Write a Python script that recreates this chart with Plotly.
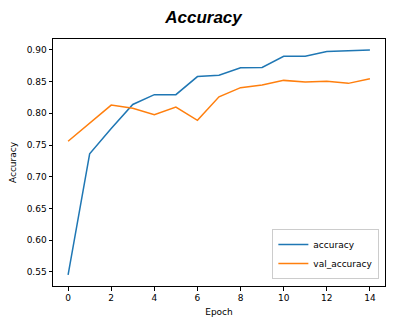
import plotly.graph_objects as go

# Training history per epoch
epochs = list(range(15))
accuracy = [0.545, 0.736, 0.776, 0.814, 0.8295, 0.8295, 0.858, 0.860,
            0.872, 0.8725, 0.890, 0.890, 0.8977, 0.899, 0.900]
val_accuracy = [0.756, 0.7845, 0.813, 0.808, 0.798, 0.810, 0.789, 0.826,
                0.8405, 0.8447, 0.852, 0.8494, 0.8505, 0.8473, 0.8547]
x_ticks = [0, 2, 4, 6, 8, 10, 12, 14]
y_ticks = [0.55, 0.60, 0.65, 0.70, 0.75, 0.80, 0.85, 0.90]

FONT = "DejaVu Sans"

fig = go.Figure()
fig.add_trace(go.Scatter(x=epochs, y=accuracy, mode="lines", name="accuracy",
                         line=dict(color="#1f77b4", width=1.5)))
fig.add_trace(go.Scatter(x=epochs, y=val_accuracy, mode="lines", name="val_accuracy",
                         line=dict(color="#ff7f0e", width=1.5)))

axis_common = dict(
    showgrid=False, zeroline=False,
    showline=True, linecolor="black", linewidth=1, mirror=True,
    ticks="outside", ticklen=3.5, tickwidth=0.8, tickcolor="black",
    tickfont=dict(family=FONT, size=9, color="black"),
)

fig.update_layout(
    width=407, height=328,
    margin=dict(l=50.5, r=22, t=38.5, b=41.7),
    paper_bgcolor="white", plot_bgcolor="white",
    title=dict(text="<b><i>Accuracy</i></b>", x=0.5, xanchor="center",
               y=1 - 17 / 328, yanchor="middle",
               font=dict(family="Liberation Sans", size=17, color="black")),
    xaxis=dict(range=[-0.7, 14.7], tickvals=x_ticks,
               title=dict(text="Epoch", font=dict(family=FONT, size=9, color="black"),
                          standoff=6),
               **axis_common),
    yaxis=dict(range=[0.5275, 0.9173], tickvals=y_ticks, tickformat=".2f",
               title=dict(text="Accuracy", font=dict(family=FONT, size=9, color="black"),
                          standoff=8),
               **axis_common),
    legend=dict(x=0.983, y=0.028, xanchor="right", yanchor="bottom",
                bgcolor="rgba(255,255,255,0.8)", bordercolor="#cccccc", borderwidth=1,
                font=dict(family=FONT, size=9, color="black"),
                tracegroupgap=0),
    showlegend=True,
)

fig.write_html("out.html")
